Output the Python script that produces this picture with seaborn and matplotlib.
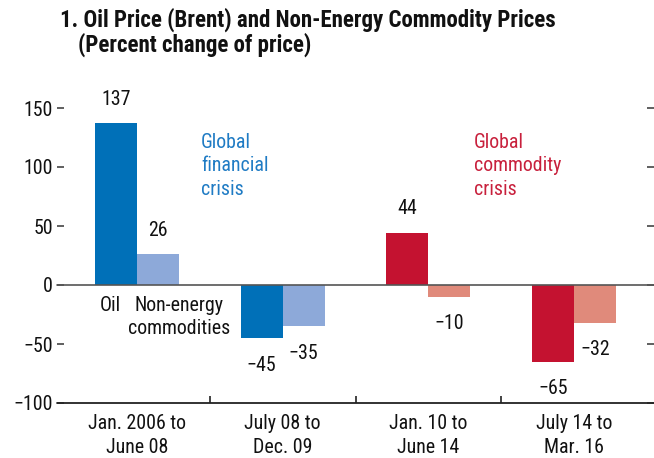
import matplotlib
matplotlib.use("Agg")
import matplotlib.pyplot as plt
import seaborn as sns
import pandas as pd

# Periods, series and percent changes
periods = ["Jan. 2006 to\nJune 08", "July 08 to\nDec. 09", "Jan. 10 to\nJune 14", "July 14 to\nMar. 16"]
series = ["Oil", "Non-energy commodities"]
oil = [137, -45, 44, -65]
non_energy = [26, -35, -10, -32]
yticks = [-100, -50, 0, 50, 100, 150]

blue_dark, blue_light = "#0070B8", "#8DA9D9"
red_dark, red_light = "#C41230", "#E08A7B"

sns.set_theme(style="white")
plt.rcParams["font.family"] = ["Roboto Condensed", "Roboto", "DejaVu Sans"]
plt.rcParams["axes.unicode_minus"] = True

FS = 14.3


def fmt(v):
    return f"{v}".replace("-", "\u2212")


df = pd.DataFrame({
    "period": periods * 2,
    "series": [series[0]] * 4 + [series[1]] * 4,
    "value": oil + non_energy,
})

fig = plt.figure(figsize=(6.54, 4.58), dpi=100)
ax = fig.add_axes([64 / 654, 55 / 458, 583 / 654, (403 - 72.6) / 458])

# Financial-crisis periods in blue, commodity-crisis periods in red
for subset, pal in [(periods[:2], [blue_dark, blue_light]), (periods[2:], [red_dark, red_light])]:
    sns.barplot(data=df[df["period"].isin(subset)], x="period", y="value", hue="series",
                order=periods, hue_order=series, palette=pal, width=0.575,
                saturation=1, legend=False, ax=ax, linewidth=0, errorbar=None)

ax.set_xlim(-0.5, 3.5)
ax.set_ylim(-100, 180)
ax.set_xlabel("")
ax.set_ylabel("")

for s in ax.spines.values():
    s.set_visible(False)

# Zero line and baseline extend slightly past the plot edges
ext = 7 / 583
ax.axhline(0, xmin=-ext, xmax=1 + ext, color="#555555", lw=1.2, clip_on=False, zorder=3)
ax.axhline(-100, xmin=-ext, xmax=1 + ext, color="#222222", lw=1.3, clip_on=False, zorder=3)

ax.set_yticks(yticks)
ax.set_yticklabels([fmt(v) for v in yticks])
ax.tick_params(axis="y", which="major", left=True, right=True, direction="out",
               length=5, width=1.2, color="#444444", labelsize=FS, pad=3, labelcolor="#111111")

ax.set_xticks(range(4))
ax.set_xticklabels(periods, linespacing=1.3)
ax.tick_params(axis="x", which="major", length=0, labelsize=FS, pad=8, labelcolor="#111111")
ax.set_xticks([0.5, 1.5, 2.5], minor=True)
ax.tick_params(axis="x", which="minor", bottom=True, direction="in", length=5, width=1.2, color="#222222")

# Value labels
w = 0.575 / 2
for i in range(4):
    for val, dx in [(oil[i], -w / 2), (non_energy[i], w / 2)]:
        off = 17.5 if val >= 0 else -19.5
        ax.annotate(fmt(val), (i + dx, val), xytext=(0, off),
                    textcoords="offset points", ha="center", va="center",
                    fontsize=FS, color="#111111")

# Series labels under first group
ax.text(-0.18, -17, "Oil", ha="center", va="center", fontsize=FS, color="#111111")
ax.text(0.29, -27, "Non-energy\ncommodities", ha="center", va="center", fontsize=FS,
        color="#111111", linespacing=1.3)

# Episode labels
ax.text(0.44, 129, "Global\nfinancial\ncrisis", ha="left", va="top", fontsize=FS,
        color="#1F7BC4", linespacing=1.3)
ax.text(2.31, 129, "Global\ncommodity\ncrisis", ha="left", va="top", fontsize=FS,
        color="#C8203C", linespacing=1.3)

fig.text(60 / 654, 1 - 20 / 458, "1. Oil Price (Brent) and Non-Energy Commodity Prices",
         ha="left", va="center", fontsize=16.5, fontweight="bold", color="#111111")
fig.text(78 / 654, 1 - 45 / 458, "(Percent change of price)",
         ha="left", va="center", fontsize=16.5, fontweight="bold", color="#111111")

fig.savefig("out.png", dpi=100)
